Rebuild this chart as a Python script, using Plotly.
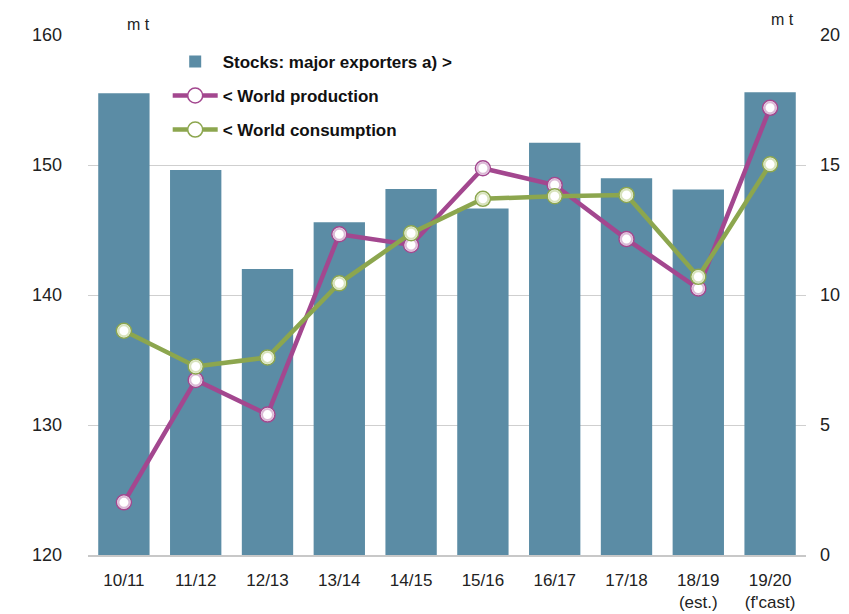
import plotly.graph_objects as go

seasons = ["10/11", "11/12", "12/13", "13/14", "14/15", "15/16", "16/17", "17/18",
           "18/19<br>(est.)", "19/20<br>(f'cast)"]
stocks = [17.76, 14.81, 11.0, 12.8, 14.08, 13.33, 15.86, 14.49, 14.06, 17.8]
production = [124.05, 133.46, 130.8, 144.67, 143.85, 149.75, 148.46, 144.3, 140.5, 154.4]
consumption = [137.25, 134.5, 135.2, 140.9, 144.75, 147.4, 147.6, 147.7, 141.4, 150.05]

BAR = "#5b8ca5"
PURPLE = ("#a3478f", "rgba(190,130,180,0.55)")
GREEN = ("#8ca64e", "rgba(200,215,160,0.7)")
FONT = "Liberation Sans, Arial, sans-serif"

fig = go.Figure()
fig.add_trace(go.Bar(x=seasons, y=stocks, name="Stocks: major exporters a) >",
                     marker=dict(color=BAR, line=dict(width=0)), yaxis="y",
                     legendgroup="a"))
for name, vals, (col, halo), grp in [("< World production", production, PURPLE, "b"),
                                     ("< World consumption", consumption, GREEN, "c")]:
    fig.add_trace(go.Scatter(
        x=seasons, y=vals, name=name, yaxis="y2", mode="lines+markers", legendgroup=grp,
        line=dict(color=col, width=4.5),
        marker=dict(size=15, color="white", line=dict(color=col, width=1.5)),
    ))
    # soft halo round the markers
    fig.add_trace(go.Scatter(
        x=seasons, y=vals, yaxis="y2", mode="markers", legendgroup=grp, showlegend=False,
        hoverinfo="skip",
        marker=dict(size=11, color="white", line=dict(color=halo, width=2)),
    ))

fig.update_layout(
    width=849, height=614,
    margin=dict(l=88, r=43, t=35, b=59, autoexpand=False),
    plot_bgcolor="white", paper_bgcolor="white",
    font=dict(family=FONT, size=18, color="#222"),
    bargap=0.285,
    showlegend=True,
    legend=dict(x=0.111, y=0.983, xanchor="left", yanchor="top",
                bgcolor="rgba(0,0,0,0)", itemwidth=45, tracegroupgap=9,
                font=dict(family=FONT, size=17, color="#111", weight="bold")),
    xaxis=dict(range=[-0.5, 9.5], showgrid=False, showline=True, linecolor="#c8c8c8",
               linewidth=1.5, ticks="", tickfont=dict(size=17), ticklabelstandoff=9,
               automargin=False),
    yaxis=dict(range=[0, 20], dtick=5, side="right", showgrid=True, gridcolor="#cfcfcf",
               gridwidth=1.3, zeroline=False, ticks="", ticklabelstandoff=13,
               tickfont=dict(size=18), automargin=False),
    yaxis2=dict(range=[120, 160], dtick=10, side="left", overlaying="y", showgrid=False,
                zeroline=False, ticks="", ticklabelstandoff=25, tickfont=dict(size=18),
                automargin=False),
)
fig.add_annotation(text="m t", x=0.07, y=1.0, xref="paper", yref="paper", xanchor="center",
                   yanchor="bottom", showarrow=False, font=dict(size=16, color="#222"))
fig.add_annotation(text="m t", x=0.967, y=1.01, xref="paper", yref="paper", xanchor="center",
                   yanchor="bottom", showarrow=False, font=dict(size=16, color="#222"))

fig.write_html("out.html", config={"responsive": False, "displayModeBar": False},
               post_script="document.body.style.margin='0';document.body.style.overflow='hidden';")
